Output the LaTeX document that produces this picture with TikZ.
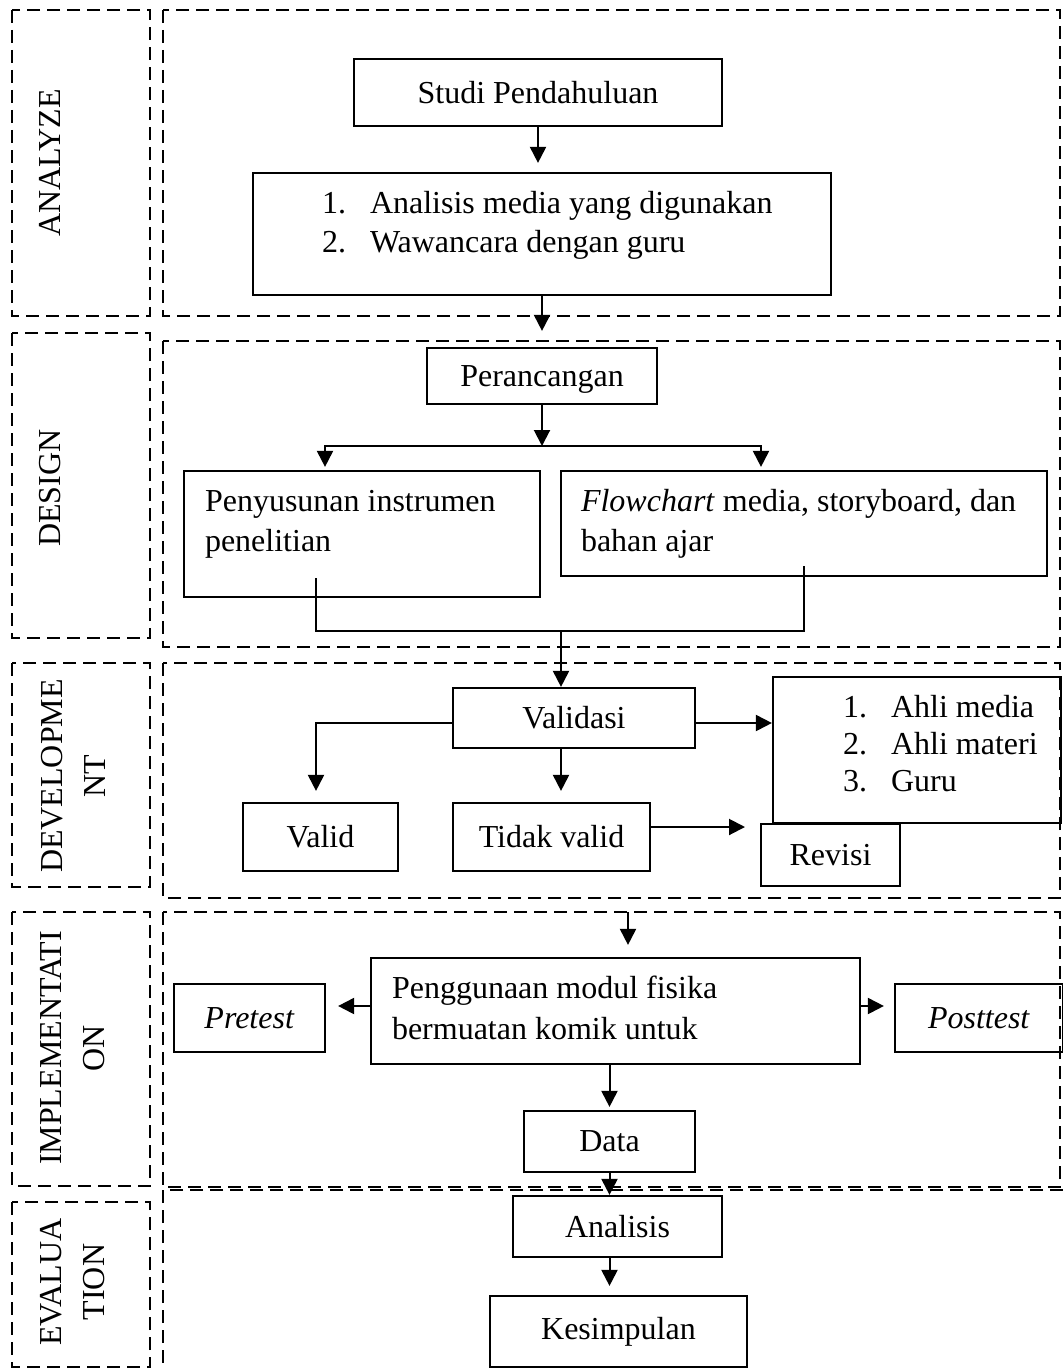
\documentclass[tikz,border=0pt]{standalone}
\usepackage{fontspec}
\setmainfont{Liberation Serif}
\usepackage{tikz}
\usetikzlibrary{arrows.meta}
% isi kotak rata kiri: lebar, tinggi, geser kiri, jarak baris, teks
\newcommand{\isikotak}[5]{\parbox[c][#2][t]{#1}{\fontsize{16}{#4}\selectfont
  \raggedright\leftskip=#3\relax\rule{0pt}{20pt}#5}}
\newcommand{\butir}[1]{\makebox[24pt][l]{#1}}
\tikzset{
  kotak/.style = {draw=black, line width=1.1pt, inner sep=0pt, align=center,
    font=\fontsize{16}{20}\selectfont},% kotak proses
  sisi/.style = {rotate=90, align=center, inner sep=0pt,
    font=\fontsize{16}{21.5}\selectfont},% nama tahap
  garis/.style = {dash pattern=on 6.5pt off 3.5pt, line width=0.8pt},% bingkai tahap
  panah/.style = {line width=1pt, -{Triangle[length=8pt,width=8pt]}}
}
\begin{document}
\begin{tikzpicture}[x=0.5pt, y=-0.5pt]
  \useasboundingbox (0,0) rectangle (1063,1370);
  % bingkai tahap
  \draw[garis] (12,10) rectangle (150,316);
  \draw[garis] (163,10) rectangle (1060,316);
  \draw[garis] (12,333) rectangle (150,638);
  \draw[garis] (163,341) rectangle (1060,647);
  \draw[garis] (12,663) rectangle (150,887);
  \draw[garis] (163,663) rectangle (1060,898);
  \draw[garis] (12,912) rectangle (150,1186);
  \draw[garis] (163,912) rectangle (1060,1187);
  \draw[garis] (12,1202) rectangle (150,1367);
  \draw[garis] (1063,1190) -- (163,1190) -- (163,1370);
  \node[sisi] (tahapA) at (50,163) {ANALYZE};
  \node[sisi] (tahapD) at (50,488) {DESIGN};
  \node[sisi] (tahapDv) at (73,776) {DEVELOPME\\NT};
  \node[sisi] (tahapI) at (73,1048) {IMPLEMENTATI\\ON};
  \node[sisi] (tahapE) at (73,1282) {EVALUA\\TION};
  % analyze
  \node[kotak, minimum width=184pt, minimum height=33.5pt] (studi) at (538,92.5) {Studi Pendahuluan};
  \node[kotak] (analisis) at (542,234) {\isikotak{289pt}{61pt}{34.5pt}{19.5pt}{%
    \butir{1.}Analisis media yang digunakan\\\butir{2.}Wawancara dengan guru}};
  % design
  \node[kotak, minimum width=115pt, minimum height=28pt, text depth=0pt] (perancangan) at (542,376) {Perancangan};
  \node[kotak] (penyusunan) at (362,534) {\isikotak{178pt}{63pt}{10.5pt}{20pt}{%
    Penyusunan instrumen\\penelitian}};
  \node[kotak] (flowchart) at (804,523.5) {\isikotak{243pt}{52.5pt}{10pt}{20pt}{%
    \textit{Flowchart} media, storyboard, dan\\bahan ajar}};
  % development
  \node[kotak, minimum width=121pt, minimum height=30pt] (validasi) at (574,718) {Validasi};
  \node[kotak] (ahli) at (917,750) {\isikotak{144pt}{73pt}{35pt}{18.5pt}{%
    \butir{1.}Ahli media\\\butir{2.}Ahli materi\\\butir{3.}Guru}};
  \node[kotak, minimum width=77.5pt, minimum height=34pt] (valid) at (320.5,837) {Valid};
  \node[kotak, minimum width=98.5pt, minimum height=34pt] (tidak) at (551.5,837) {Tidak valid};
  \node[kotak, minimum width=69.5pt, minimum height=31pt] (revisi) at (830.5,855) {Revisi};
  % implementation
  \node[kotak] (penggunaan) at (615.5,1011) {\isikotak{244.5pt}{53pt}{10.5pt}{20.5pt}{%
    Penggunaan modul fisika\\bermuatan komik untuk}};
  \node[kotak, minimum width=75.5pt, minimum height=34pt] (pretest) at (249.5,1018) {\textit{Pretest}};
  \node[kotak, minimum width=84pt, minimum height=34pt] (posttest) at (979,1018) {\textit{Posttest}};
  \node[kotak, minimum width=85.5pt, minimum height=30.5pt] (data) at (609.5,1141.5) {Data};
  % evaluation
  \node[kotak, minimum width=104.5pt, minimum height=30.5pt] (analisisdata) at (617.5,1226.5) {Analisis};
  \node[kotak, minimum width=128.5pt, minimum height=35.5pt] (kesimpulan) at (618.5,1331.5) {Kesimpulan};
  % penghubung
  \coordinate (cabang) at (542,446);
  \coordinate (gabung) at (561,631);
  \coordinate (kerevisi) at (745,827);
  \coordinate (masuk) at (628,912);
  \draw[panah, shorten >=4.5pt] (studi.south) -- (studi.south |- analisis.north);
  \draw[panah, shorten >=8pt] (analisis.south) -- (analisis.south |- perancangan.north);
  \draw[panah] (perancangan.south) -- (cabang);
  \draw[panah, shorten >=1.5pt] (cabang) -| ([xshift=-18.5pt]penyusunan.north);
  \draw[panah, shorten >=1.5pt] (cabang) -| ([xshift=-21.5pt]flowchart.north);
  \draw[line width=1pt] ([xshift=-23pt,yshift=10pt]penyusunan.south) |- (gabung)
    -| ([yshift=5.5pt]flowchart.south);
  \draw[panah] (gabung) -- (gabung |- validasi.north);
  \draw[panah] ([yshift=-2.5pt]validasi.east) -- ([yshift=-2.5pt]validasi.east -| ahli.west);
  \draw[panah, shorten >=5.5pt] ([yshift=-2.5pt]validasi.west) -| ([xshift=-2.25pt]valid.north);
  \draw[panah, shorten >=5.5pt] (gabung |- validasi.south) -- (gabung |- tidak.north);
  \draw[panah] (tidak.east |- kerevisi) -- (kerevisi);
  \draw[panah, shorten >=6pt] (masuk) -- (masuk |- penggunaan.north);
  \draw[panah, shorten >=6pt] ([yshift=2.5pt]penggunaan.west) -- ([yshift=2.5pt]penggunaan.west -| pretest.east);
  \draw[panah, shorten >=5pt] ([yshift=2.5pt]penggunaan.east) -- ([yshift=2.5pt]penggunaan.east -| posttest.west);
  \draw[panah, shorten >=1.5pt] (penggunaan.south -| data.north) -- (data.north);
  \draw[panah] (data.south) -- (data.south |- analisisdata.north);
  \draw[panah, shorten >=4.5pt] (analisisdata.south -| data.south) -- (data.south |- kesimpulan.north);
\end{tikzpicture}
\end{document}
